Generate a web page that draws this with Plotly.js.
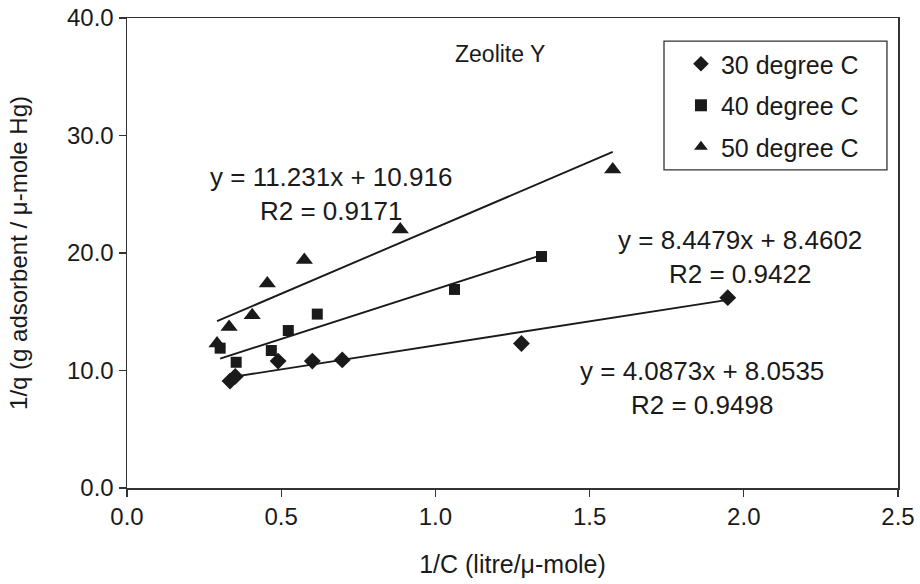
<!DOCTYPE html>
<html>
<head>
<meta charset="utf-8">
<script src="https://cdn.plot.ly/plotly-3.0.1.min.js"></script>
<style>
  html, body { margin: 0; padding: 0; background: #fff; }
  #chart { width: 920px; height: 584px; }
</style>
</head>
<body>
<div id="chart"></div>
<script>
// Linearised Langmuir data for Hg adsorption on zeolite Y: 1/q against 1/C
const seriesNames = ['30 degree C', '40 degree C', '50 degree C'];

const x30 = [0.334, 0.351, 0.490, 0.601, 0.698, 1.279, 1.948];
const y30 = [9.1, 9.5, 10.8, 10.8, 10.9, 12.3, 16.2];

const x40 = [0.302, 0.354, 0.468, 0.523, 0.617, 1.062, 1.344];
const y40 = [11.9, 10.7, 11.7, 13.4, 14.8, 16.9, 19.7];

const x50 = [0.292, 0.331, 0.406, 0.455, 0.575, 0.886, 1.575];
const y50 = [12.3, 13.7, 14.7, 17.4, 19.4, 22.0, 27.1];

// Linear fits y = m x + b, with R2
const slopes = [4.0873, 8.4479, 11.231];
const intercepts = [8.0535, 8.4602, 10.916];
const r2 = [0.9498, 0.9422, 0.9171];

const xTicks = [0, 0.5, 1.0, 1.5, 2.0, 2.5];
const yTicks = [0, 10, 20, 30, 40];

const FONT = 'Liberation Sans, Arial, sans-serif';
const INK = '#1a1a1a';

const xs = [x30, x40, x50];
const ys = [y30, y40, y50];
const symbols = ['diamond', 'square', 'triangle-up'];
const markerSizes = [13, 11, 15];

const traces = [];
for (let i = 0; i < 3; i++) {
  traces.push({
    type: 'scatter', mode: 'markers', name: seriesNames[i],
    x: xs[i], y: ys[i], legendgroup: 'g' + i,
    marker: { symbol: symbols[i], size: markerSizes[i], color: INK },
    hoverinfo: 'x+y'
  });
}
// Fitted lines over each series' own x range
for (let i = 0; i < 3; i++) {
  const x0 = Math.min(...xs[i]), x1 = Math.max(...xs[i]);
  traces.push({
    type: 'scatter', mode: 'lines', showlegend: false,
    x: [x0, x1],
    y: [slopes[i] * x0 + intercepts[i], slopes[i] * x1 + intercepts[i]],
    line: { color: INK, width: 1.9 },
    hoverinfo: 'skip'
  });
}

function eqText(i) {
  return 'y = ' + slopes[i] + 'x + ' + intercepts[i] + '<br>R2 = ' + r2[i];
}

const annFont = { family: FONT, size: 26, color: INK };
const layout = {
  width: 920, height: 584,
  margin: { l: 127, r: 22, t: 18, b: 96 },
  paper_bgcolor: '#fff', plot_bgcolor: '#fff',
  font: { family: FONT, size: 24, color: INK },
  showlegend: true,
  legend: {
    x: 0.7185, y: 0.951, xanchor: 'left', yanchor: 'top',
    bgcolor: 'rgba(0,0,0,0)', borderwidth: 0,
    font: { family: FONT, size: 25, color: INK },
    tracegroupgap: 6, itemwidth: 30,
    itemsizing: 'constant'
  },
  shapes: [
    // legend frame
    { type: 'rect', xref: 'paper', yref: 'paper',
      x0: 0.6965, x1: 0.9857, y0: 0.677, y1: 0.951,
      line: { color: '#333', width: 1.3 }, fillcolor: 'rgba(0,0,0,0)', layer: 'below' }
  ],
  xaxis: {
    range: [0, 2.5], tickvals: xTicks, tickformat: '.1f',
    ticks: 'outside', ticklen: 7, tickcolor: '#333', tickwidth: 1.2,
    showline: true, linecolor: '#333', linewidth: 1.5, mirror: true,
    showgrid: false, zeroline: false,
    tickfont: { family: FONT, size: 24, color: INK },
    title: { text: '1/C (litre/\u03bc-mole)', font: { family: FONT, size: 25, color: INK }, standoff: 26 }
  },
  yaxis: {
    range: [0, 40], tickvals: yTicks, tickformat: '.1f',
    ticks: 'outside', ticklen: 7, tickcolor: '#333', tickwidth: 1.2,
    showline: true, linecolor: '#333', linewidth: 1.5, mirror: true,
    showgrid: false, zeroline: false,
    tickfont: { family: FONT, size: 24, color: INK },
    title: { text: '1/q (g adsorbent / \u03bc-mole Hg)', font: { family: FONT, size: 24, color: INK }, standoff: 32 }
  },
  annotations: [
    { x: 1.208, y: 36.9, xref: 'x', yref: 'y', text: 'Zeolite Y', showarrow: false,
      font: { family: FONT, size: 23, color: INK } },
    { x: 0.662, y: 25.06, xref: 'x', yref: 'y', text: eqText(2), showarrow: false, font: annFont },
    { x: 1.989, y: 19.70, xref: 'x', yref: 'y', text: eqText(1), showarrow: false, font: annFont },
    { x: 1.864, y: 8.55, xref: 'x', yref: 'y', text: eqText(0), showarrow: false, font: annFont }
  ]
};

Plotly.newPlot('chart', traces, layout, { displayModeBar: false, staticPlot: true });
</script>
</body>
</html>
